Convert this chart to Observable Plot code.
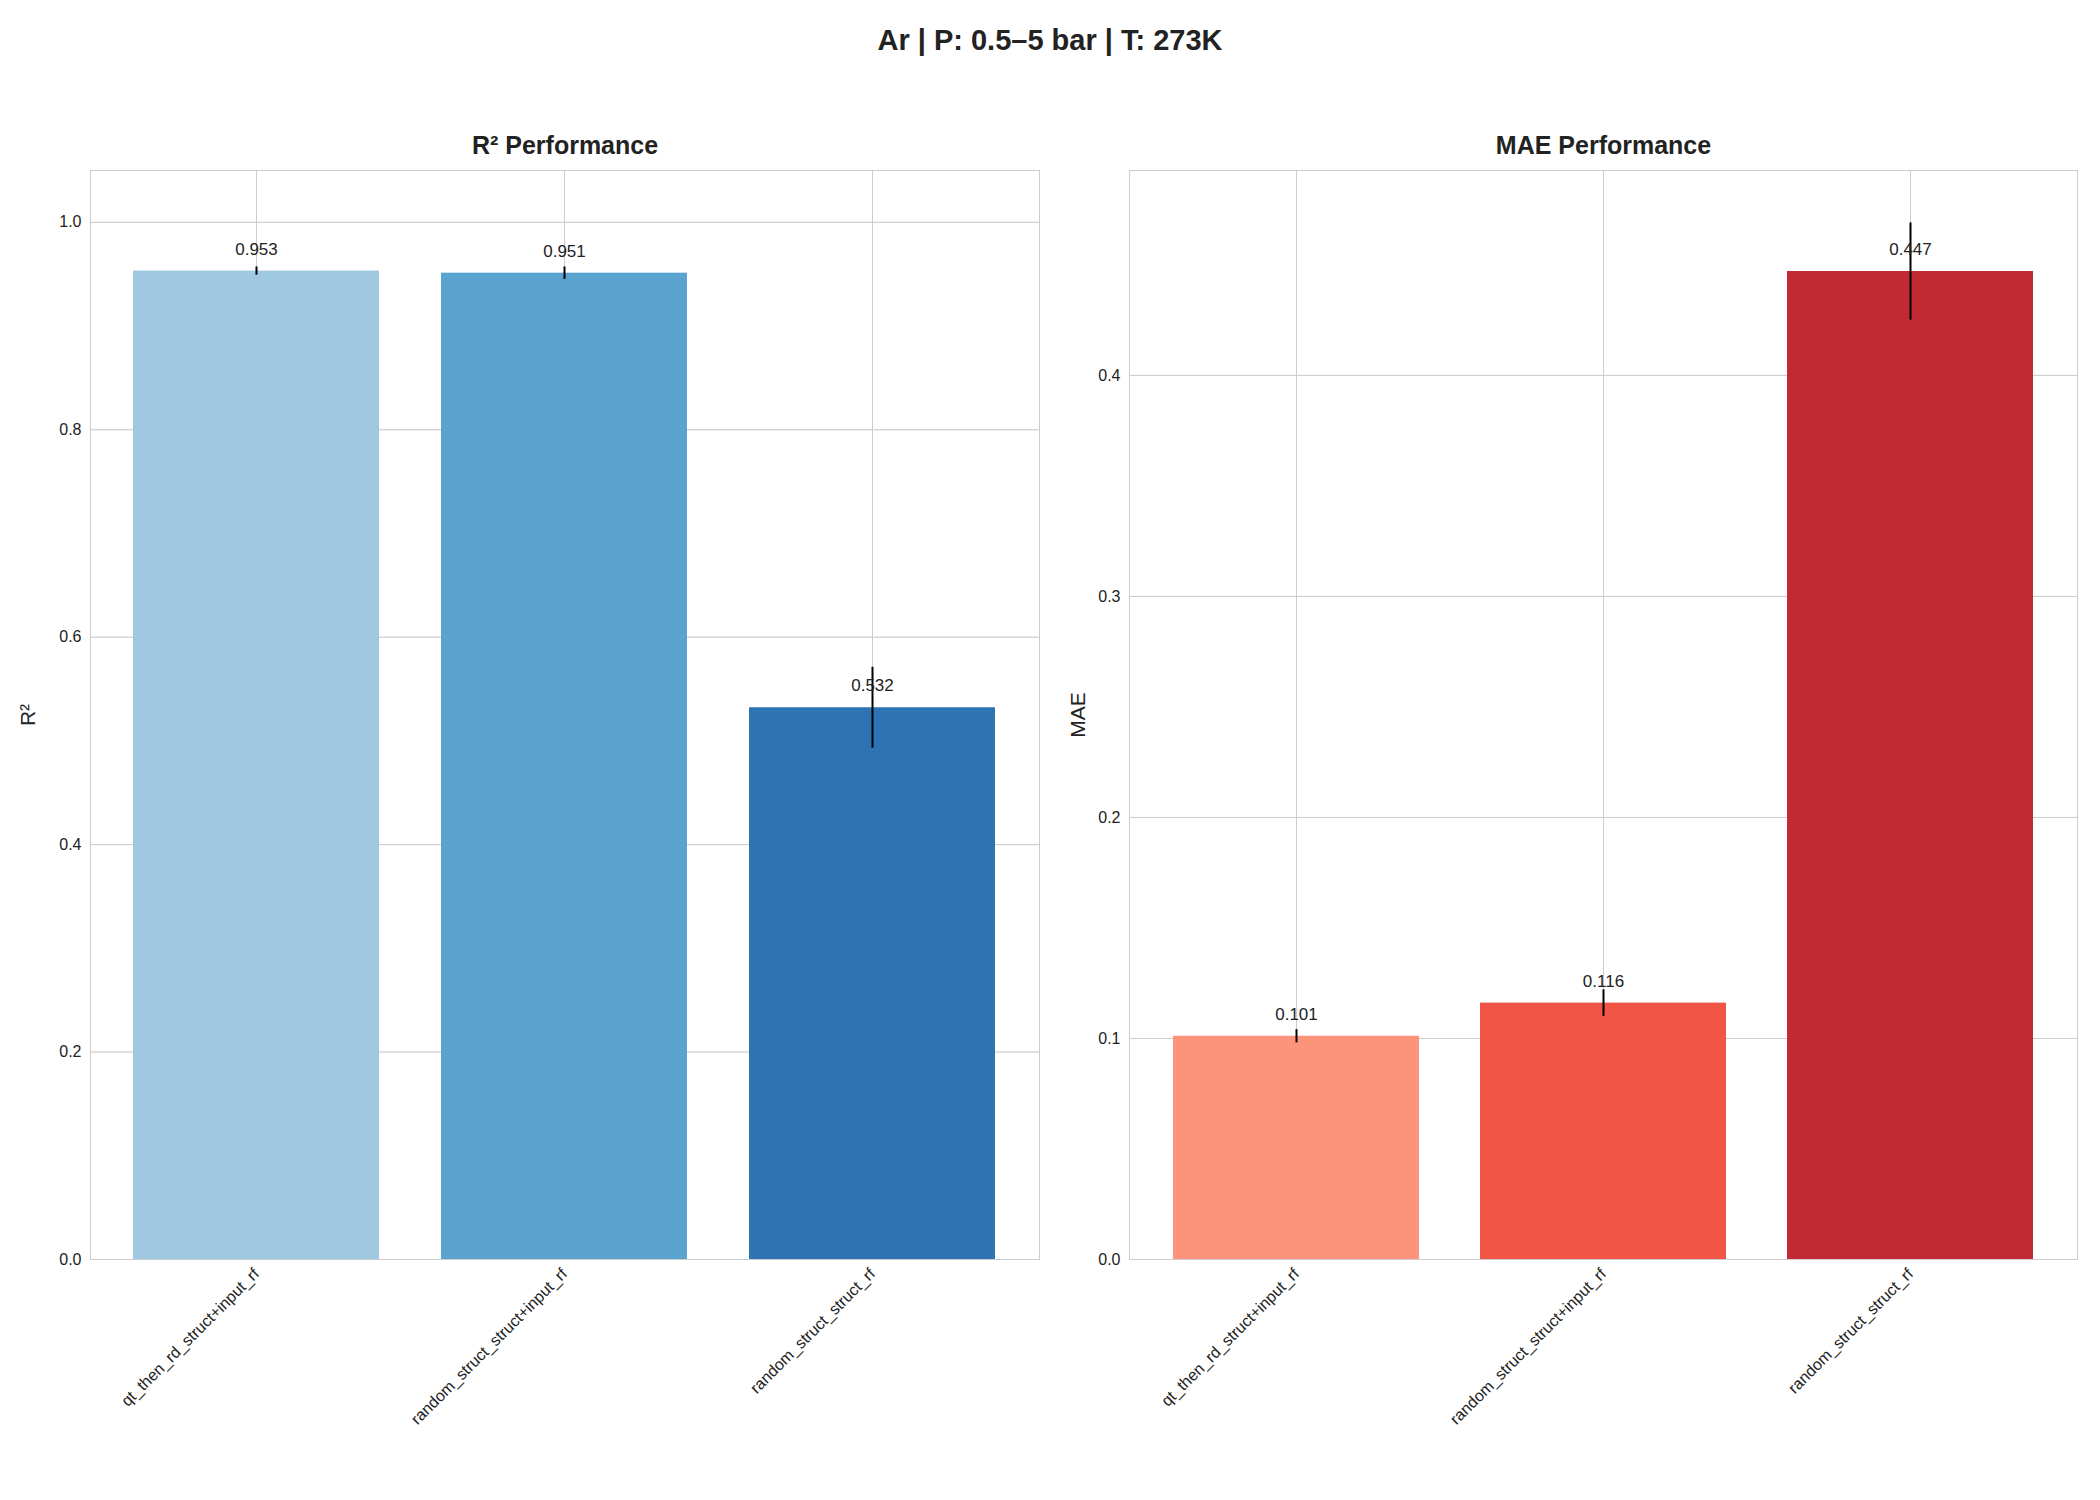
<!DOCTYPE html>
<html><head><meta charset="utf-8">
<script src="https://cdn.jsdelivr.net/npm/d3@7"></script>
<script src="https://cdn.jsdelivr.net/npm/@observablehq/plot@0.6"></script>
<style>
body{margin:0;background:#fff;font-family:"Liberation Sans",Arial,sans-serif;}
#wrap{position:relative;width:2100px;height:1500px;}
#title{position:absolute;top:24px;left:0;width:2100px;text-align:center;font-weight:bold;font-size:29px;color:#222;}
#charts{display:flex;}
</style></head><body>
<div id="wrap"><div id="title">Ar | P: 0.5–5 bar | T: 273K</div><div id="charts"></div></div>
<script>
const models = ["qt_then_rd_struct+input_rf","random_struct_struct+input_rf","random_struct_struct_rf"];
const r2Values = [0.953, 0.951, 0.532];
const r2Errors = [0.004, 0.006, 0.039];
const maeValues = [0.101, 0.116, 0.447];
const maeErrors = [0.003, 0.006, 0.022];
const blues = ["#9ec9e1","#5ba3cf","#2e74b5"];
const reds = ["#fc937a","#f15545","#c22a33"];

function panel(vals, errs, colors, title, ylabel, ymax, ticks, mL, mR){
  const data = models.map((m,i)=>({m, v:vals[i], lo:vals[i]-errs[i], hi:vals[i]+errs[i], c:colors[i]}));
  return Plot.plot({
    width:1050, height:1500, marginTop:170, marginBottom:241, marginLeft:mL, marginRight:mR,
    style:{fontFamily:"Liberation Sans, Arial, sans-serif", fontSize:"15px", color:"#222"},
    x:{domain:models, paddingInner:0.2, paddingOuter:0.139, label:null, tickRotate:-45, tickSize:0, grid:true},
    y:{domain:[0,ymax], ticks, tickFormat:d3.format(".1f"), grid:true, label:ylabel, labelAnchor:"center", labelArrow:"none", tickSize:0, labelOffset:mL-20},
    marks:[
      Plot.frame({stroke:"#ccc"}),
      Plot.gridX(models,{stroke:"#ccc", strokeOpacity:1}),
      Plot.gridY(ticks,{stroke:"#ccc", strokeOpacity:1}),
      Plot.barY(data,{x:"m", y:"v", fill:"c"}),
      Plot.ruleX(data,{x:"m", y1:"lo", y2:"hi", stroke:"#000", strokeWidth:2}),
      Plot.ruleY(data,{x:"m", y:"lo", insetLeft:117, insetRight:117, stroke:"#000", strokeWidth:2}),
      Plot.ruleY(data,{x:"m", y:"hi", insetLeft:117, insetRight:117, stroke:"#000", strokeWidth:2}),
      Plot.text(data,{x:"m", y:"v", text:d=>d.v.toFixed(3), dy:-22, fontSize:17, fill:"#222"}),
      Plot.text([title],{frameAnchor:"top", dy:-34, fontSize:25, fontWeight:"bold", fill:"#222"})
    ]
  });
}
const c = document.getElementById("charts");
const p1 = panel(r2Values, r2Errors, blues, "R² Performance", "R²", 1.05, [0,0.2,0.4,0.6,0.8,1.0], 90, 11);
const p2 = panel(maeValues, maeErrors, reds, "MAE Performance", "MAE", 0.4927, [0,0.1,0.2,0.3,0.4], 79, 23);
c.appendChild(p1); c.appendChild(p2);
for (const s of [p1,p2]) {
  s.querySelectorAll('[aria-label="x-axis tick label"] text').forEach(t=>t.setAttribute("font-size","16"));
  s.querySelectorAll('[aria-label="y-axis tick label"] text').forEach(t=>t.setAttribute("font-size","16"));
  s.querySelectorAll('[aria-label="y-axis label"] text').forEach(t=>t.setAttribute("font-size","21"));
}
</script></body></html>
